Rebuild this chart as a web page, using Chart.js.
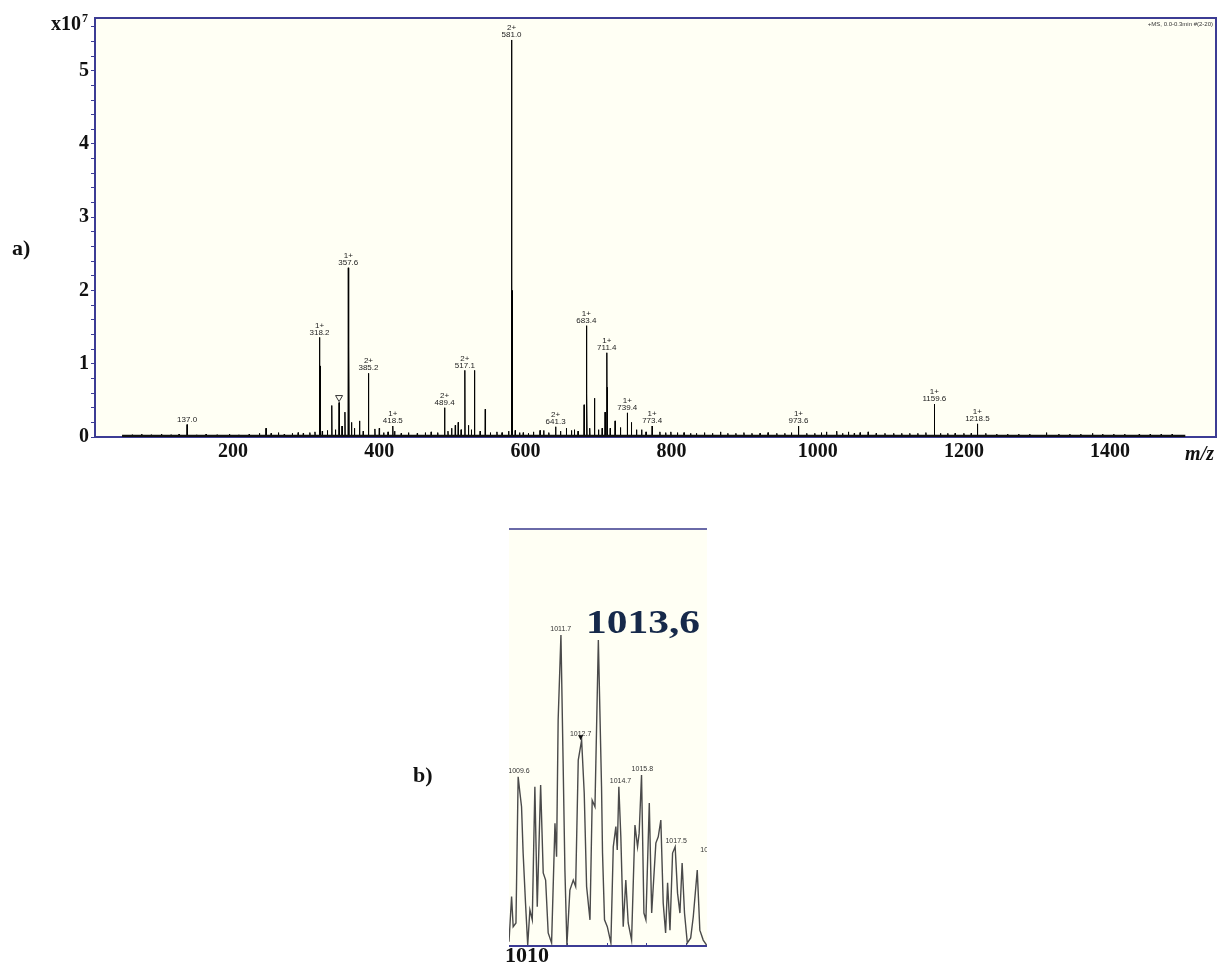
<!DOCTYPE html>
<html>
<head>
<meta charset="utf-8">
<script src="https://cdn.jsdelivr.net/npm/chart.js@4.4.1/dist/chart.umd.min.js"></script>
<style>
  body { margin: 0; background: #fff; width: 1220px; height: 967px; position: relative; overflow: hidden; }
  #specA { position: absolute; left: 0; top: 0; }
  #specB { position: absolute; left: 400px; top: 500px; }
</style>
</head>
<body>
<canvas id="specA" width="1220" height="480"></canvas>
<canvas id="specB" width="320" height="467"></canvas>
<script>
// a) main peaks: m/z and intensity (x10^7)
const mainMz  = [137.0, 245.0, 318.2, 318.9, 335.0, 345.0, 353.0, 357.6, 358.4, 385.2, 418.5, 489.4, 517.1, 530.3, 545.0,
                 581.0, 581.7, 641.3, 680.3, 683.4, 684.1, 694.5, 709.0, 711.4, 712.1, 722.7, 739.4, 773.4, 973.6, 1159.6, 1218.5];
const mainInt = [0.17, 0.12, 1.36, 0.97, 0.43, 0.47, 0.34, 2.31, 1.24, 0.87, 0.15, 0.40, 0.91, 0.91, 0.38,
                 5.42, 2.00, 0.14, 0.44, 1.52, 0.59, 0.53, 0.34, 1.15, 0.68, 0.22, 0.33, 0.15, 0.15, 0.45, 0.18];

// a) small peaks of the noise floor
const minorMz  = [50, 62, 75, 88, 102, 115, 126, 150, 163, 178, 195, 208, 222, 236, 252, 262, 270, 281, 289, 296, 305, 312,
                  322, 329, 340, 349, 362, 366, 373, 378, 394, 400, 406, 412, 421, 430, 440, 452, 463, 471, 480, 494, 499,
                  504, 508, 512, 522, 526, 538, 552, 561, 568, 577, 586, 592, 597, 604, 611, 620, 625, 632, 648, 656, 663,
                  667, 672, 688, 700, 705, 716, 730, 745, 752, 759, 765, 784, 792, 799, 808, 817, 826, 834, 845, 856, 867,
                  877, 888, 899, 910, 921, 932, 944, 955, 964, 985, 996, 1005, 1012, 1026, 1034, 1042, 1050, 1058, 1069,
                  1080, 1092, 1104, 1115, 1126, 1137, 1148, 1168, 1178, 1188, 1200, 1210, 1230, 1245, 1260, 1275, 1290,
                  1313, 1330, 1345, 1360, 1376, 1390, 1405, 1420, 1440, 1455, 1470, 1485, 1500];
const minorInt = [0.02, 0.03, 0.04, 0.03, 0.04, 0.03, 0.04, 0.03, 0.04, 0.03, 0.04, 0.03, 0.04, 0.05, 0.05, 0.06, 0.04, 0.05, 0.06, 0.05, 0.06, 0.07,
                  0.08, 0.09, 0.10, 0.15, 0.20, 0.12, 0.22, 0.08, 0.11, 0.12, 0.06, 0.07, 0.08, 0.05, 0.06, 0.05, 0.06, 0.07, 0.06, 0.08, 0.12,
                  0.16, 0.20, 0.10, 0.16, 0.10, 0.08, 0.06, 0.07, 0.06, 0.08, 0.09, 0.06, 0.06, 0.05, 0.07, 0.09, 0.09, 0.06, 0.08, 0.12, 0.09,
                  0.10, 0.08, 0.12, 0.10, 0.12, 0.12, 0.13, 0.20, 0.10, 0.10, 0.07, 0.07, 0.06, 0.07, 0.06, 0.06, 0.05, 0.05, 0.06, 0.05, 0.07,
                  0.05, 0.05, 0.06, 0.05, 0.05, 0.06, 0.05, 0.05, 0.06, 0.05, 0.05, 0.06, 0.07, 0.08, 0.05, 0.07, 0.05, 0.06, 0.07,
                  0.05, 0.05, 0.05, 0.05, 0.05, 0.05, 0.06, 0.05, 0.05, 0.05, 0.05, 0.05, 0.05, 0.04, 0.04, 0.04, 0.04,
                  0.06, 0.04, 0.04, 0.04, 0.05, 0.04, 0.04, 0.04, 0.04, 0.04, 0.04, 0.04, 0.02];
const baseStart = [48, 0.015];
const baseEnd   = [1503, 0.015];

// a) peak labels
const labelMz     = [137.0, 318.2, 357.6, 385.2, 418.5, 489.4, 517.1, 581.0, 641.3, 683.4, 711.4, 739.4, 773.4, 973.6, 1159.6, 1218.5];
const labelCharge = ['', '1+', '1+', '2+', '1+', '2+', '2+', '2+', '2+', '1+', '1+', '1+', '1+', '1+', '1+', '1+'];
const labelInt    = [0.17, 1.36, 2.31, 0.87, 0.15, 0.40, 0.91, 5.42, 0.14, 1.52, 1.15, 0.33, 0.15, 0.15, 0.45, 0.18];
const markerMz = 345.0, markerInt = 0.47;

const xTickValues = [200, 400, 600, 800, 1000, 1200, 1400];
const yLabels = [0, 1, 2, 3, 4, 5];

// b) zoom on 1009-1019 (relative intensity, 1011.7 = 100)
const zoomMz  = [1009.10, 1009.23, 1009.31, 1009.45, 1009.56, 1009.65, 1009.73, 1009.81, 1009.93, 1010.04,
                 1010.15, 1010.27, 1010.40, 1010.52, 1010.69, 1010.82, 1010.94, 1011.07, 1011.24, 1011.41,
                 1011.49, 1011.57, 1011.71, 1011.82, 1011.91, 1012.01, 1012.16, 1012.33, 1012.45, 1012.58,
                 1012.75, 1012.88, 1013.00, 1013.17, 1013.28, 1013.42, 1013.59, 1013.75, 1013.80, 1013.90,
                 1014.04, 1014.22, 1014.34, 1014.47, 1014.54, 1014.62, 1014.72, 1014.84, 1014.97, 1015.09,
                 1015.26, 1015.43, 1015.56, 1015.64, 1015.76, 1015.88, 1015.98, 1016.15, 1016.27, 1016.48,
                 1016.60, 1016.73, 1016.85, 1016.97, 1017.07, 1017.19, 1017.32, 1017.45, 1017.57, 1017.69,
                 1017.80, 1017.92, 1018.06, 1018.23, 1018.36, 1018.56, 1018.69, 1018.86, 1019.03];
const zoomInt = [1.4, 15.9, 6.2, 7.4, 54.4, 49.2, 44.8, 29.9, 13.8, 0.3,
                 11.6, 8.4, 51.2, 12.6, 51.8, 23.5, 21.2, 4.2, 1.0, 39.5,
                 28.7, 72.7, 100, 58.8, 24.4, 0.3, 18.0, 21.2, 19.1, 59.8,
                 66.2, 49.2, 19.1, 8.4, 46.9, 44.8, 98.4, 51.2, 29.9, 8.4,
                 6.2, 1.0, 31.9, 38.4, 30.9, 51.2, 35.1, 6.2, 21.2, 7.4,
                 1.9, 38.9, 31.9, 36.3, 55.0, 10.6, 8.4, 46.0, 10.6, 33.1,
                 35.1, 40.5, 13.8, 4.2, 20.3, 5.1, 29.9, 31.9, 17.0, 10.6,
                 26.7, 10.6, 1.0, 2.6, 9.4, 24.4, 5.1, 1.9, 0.3];
const zoomLabelMz  = [1009.6, 1011.7, 1012.7, 1014.7, 1015.8, 1017.5, 1019.25];
const zoomLabelTxt = ['1009.6', '1011.7', '1012.7', '1014.7', '1015.8', '1017.5', '1019.2'];
const zoomLabelInt = [54.4, 100, 66.2, 51.2, 55.0, 31.9, 29];
const zoomTicks = [1010, 1012, 1014, 1016, 1018];
const zoomTickLabels = ['1010', '', '', '', ''];
const zoomTitle = '1013,6';

const SERIF = '"Liberation Serif", "Times New Roman", serif';
const SANS = '"Liberation Sans", Arial, sans-serif';
const NAVY = '#3c3c94';
const CREAM = '#fffff4';

function sticks(mz, inten, base) {
    const order = mz.map((_, i) => i).sort((a, b) => mz[a] - mz[b]);
    const pts = [];
    order.forEach(i => {
        pts.push({ x: mz[i] - 0.4, y: base });
        pts.push({ x: mz[i], y: inten[i] });
        pts.push({ x: mz[i] + 0.4, y: base });
    });
    return pts;
}

function fillArea(chart) {
    const { ctx, chartArea: a } = chart;
    ctx.save();
    ctx.fillStyle = CREAM;
    ctx.fillRect(a.left, a.top, a.right - a.left, a.bottom - a.top);
    ctx.restore();
}

const decorA = {
    id: 'decorA',
    beforeDraw(chart) { fillArea(chart); },
    beforeDatasetsDraw(chart) {
        const { ctx, chartArea: a } = chart;
        ctx.save();
        ctx.strokeStyle = NAVY;
        ctx.lineWidth = 2;
        ctx.strokeRect(a.left, a.top, a.right - a.left, a.bottom - a.top);
        ctx.restore();
    },
    afterDraw(chart) {
        const ctx = chart.ctx;
        const xs = chart.scales.x, ys = chart.scales.y;
        ctx.save();
        ctx.fillStyle = '#222';
        ctx.textAlign = 'center';
        ctx.textBaseline = 'middle';
        ctx.font = '8px ' + SANS;
        labelMz.forEach((m, i) => {
            const x = xs.getPixelForValue(m);
            const y = ys.getPixelForValue(labelInt[i]);
            ctx.fillText(m.toFixed(1), x, y - 5);
            if (labelCharge[i]) ctx.fillText(labelCharge[i], x, y - 12);
        });

        // open triangle over the 345 peak
        const tx = xs.getPixelForValue(markerMz), ty = ys.getPixelForValue(markerInt);
        ctx.strokeStyle = '#333';
        ctx.lineWidth = 1;
        ctx.beginPath();
        ctx.moveTo(tx - 3.5, ty - 7);
        ctx.lineTo(tx + 3.5, ty - 7);
        ctx.lineTo(tx, ty - 1);
        ctx.closePath();
        ctx.stroke();

        ctx.fillStyle = '#333';
        ctx.textAlign = 'right';
        ctx.font = '6px ' + SANS;
        ctx.fillText('+MS, 0.0-0.3min #(2-20)', 1213, 24);

        ctx.fillStyle = '#111';
        ctx.textBaseline = 'alphabetic';
        ctx.textAlign = 'left';
        ctx.font = 'bold 20px ' + SERIF;
        ctx.fillText('x10', 51, 30);
        const w = ctx.measureText('x10').width;
        ctx.font = 'bold 12px ' + SERIF;
        ctx.fillText('7', 51 + w + 1, 22);
        ctx.font = 'bold 22px ' + SERIF;
        ctx.fillText('a)', 12, 255);
        ctx.textAlign = 'right';
        ctx.font = 'italic bold 20px ' + SERIF;
        ctx.fillText('m/z', 1214, 460);
        ctx.restore();
    }
};

const decorB = {
    id: 'decorB',
    beforeDraw(chart) { fillArea(chart); },
    beforeDatasetsDraw(chart) {
        const { ctx, chartArea: a } = chart;
        const xs = chart.scales.x;
        ctx.save();
        ctx.strokeStyle = '#6a6aa8';
        ctx.lineWidth = 2;
        ctx.beginPath();
        ctx.moveTo(a.left, a.top - 1);
        ctx.lineTo(a.right, a.top - 1);
        ctx.stroke();
        ctx.strokeStyle = NAVY;
        ctx.beginPath();
        ctx.moveTo(a.left, a.bottom);
        ctx.lineTo(a.right, a.bottom);
        ctx.stroke();
        ctx.lineWidth = 1;
        zoomTicks.forEach(v => {
            const x = Math.round(xs.getPixelForValue(v)) + 0.5;
            ctx.beginPath();
            ctx.moveTo(x, a.bottom - 3);
            ctx.lineTo(x, a.bottom);
            ctx.stroke();
        });
        ctx.restore();
    },
    afterDraw(chart) {
        const { ctx, chartArea: a } = chart;
        const xs = chart.scales.x, ys = chart.scales.y;
        ctx.save();
        ctx.beginPath();
        ctx.rect(a.left, a.top, a.right - a.left, a.bottom - a.top);
        ctx.clip();
        ctx.fillStyle = '#333';
        ctx.textAlign = 'center';
        ctx.textBaseline = 'middle';
        ctx.font = '7px ' + SANS;
        zoomLabelMz.forEach((m, i) => {
            ctx.fillText(zoomLabelTxt[i], xs.getPixelForValue(m), ys.getPixelForValue(zoomLabelInt[i]) - 6);
        });
        // small filled marker on 1012.7
        const mx = xs.getPixelForValue(zoomLabelMz[2]), my = ys.getPixelForValue(zoomLabelInt[2]);
        ctx.fillStyle = '#111';
        ctx.beginPath();
        ctx.moveTo(mx - 2.5, my - 5);
        ctx.lineTo(mx + 2.5, my - 5);
        ctx.lineTo(mx, my);
        ctx.closePath();
        ctx.fill();
        ctx.restore();

        ctx.save();
        ctx.fillStyle = '#16294a';
        ctx.textAlign = 'center';
        ctx.textBaseline = 'alphabetic';
        ctx.font = 'bold 34px ' + SERIF;
        const w = ctx.measureText(zoomTitle).width;
        ctx.translate(243, 133);
        ctx.scale(114 / w, 1);
        ctx.fillText(zoomTitle, 0, 0);
        ctx.restore();

        ctx.save();
        ctx.fillStyle = '#111';
        ctx.font = 'bold 22px ' + SERIF;
        ctx.fillText('b)', 13, 282);
        ctx.restore();
    }
};

new Chart(document.getElementById('specA'), {
    type: 'line',
    data: {
        datasets: [
            {
                data: [{ x: baseStart[0], y: baseStart[1] }, { x: baseEnd[0], y: baseEnd[1] }],
                borderColor: '#111',
                borderWidth: 2.5,
                pointRadius: 0
            },
            {
                data: sticks(mainMz.concat(minorMz), mainInt.concat(minorInt), 0.015),
                borderColor: '#000',
                borderWidth: 1,
                pointRadius: 0,
                tension: 0
            }
        ]
    },
    options: {
        responsive: false,
        animation: false,
        layout: { padding: { top: 18, right: 4, left: 0, bottom: 0 } },
        plugins: { legend: { display: false }, tooltip: { enabled: false } },
        scales: {
            x: {
                type: 'linear',
                min: 11,
                max: 1545,
                afterFit: s => { s.height = 43; },
                afterBuildTicks: s => { s.ticks = xTickValues.map(v => ({ value: v })); },
                grid: { display: false, drawTicks: false },
                border: { display: false },
                ticks: {
                    font: { family: SERIF, size: 20, weight: 'bold' },
                    color: '#111',
                    padding: 3,
                    maxRotation: 0,
                    autoSkip: false,
                    callback: v => String(v)
                }
            },
            y: {
                type: 'linear',
                min: 0,
                max: 5.72,
                afterFit: s => { s.width = 95; },
                afterBuildTicks: s => {
                    const t = [];
                    for (let i = 0; i <= 28; i++) t.push({ value: i / 5 });
                    s.ticks = t;
                },
                grid: { display: true, drawOnChartArea: false, drawTicks: true, tickLength: 4, color: NAVY, lineWidth: 1 },
                border: { display: false },
                ticks: {
                    font: { family: SERIF, size: 20, weight: 'bold' },
                    color: '#111',
                    padding: 2,
                    autoSkip: false,
                    callback: v => (yLabels.includes(v) ? String(v) : '')
                }
            }
        }
    },
    plugins: [decorA]
});

new Chart(document.getElementById('specB'), {
    type: 'line',
    data: {
        datasets: [{
            data: zoomMz.map((m, i) => ({ x: m, y: zoomInt[i] })),
            borderColor: '#4a4a4a',
            borderWidth: 1.4,
            pointRadius: 0,
            tension: 0
        }]
    },
    options: {
        responsive: false,
        animation: false,
        layout: { padding: { top: 30, right: 13, left: 109, bottom: 0 } },
        plugins: { legend: { display: false }, tooltip: { enabled: false } },
        scales: {
            x: {
                type: 'linear',
                min: 1009.1,
                max: 1019.05,
                afterFit: s => { s.height = 21; },
                afterBuildTicks: s => { s.ticks = zoomTicks.map(v => ({ value: v })); },
                grid: { display: false, drawTicks: false },
                border: { display: false },
                ticks: {
                    font: { family: SERIF, size: 22, weight: 'bold' },
                    color: '#111',
                    padding: -3,
                    maxRotation: 0,
                    autoSkip: false,
                    callback: (v, i) => zoomTickLabels[i]
                }
            },
            y: { display: false, min: 0, max: 133.8 }
        }
    },
    plugins: [decorB]
});
</script>
</body>
</html>
